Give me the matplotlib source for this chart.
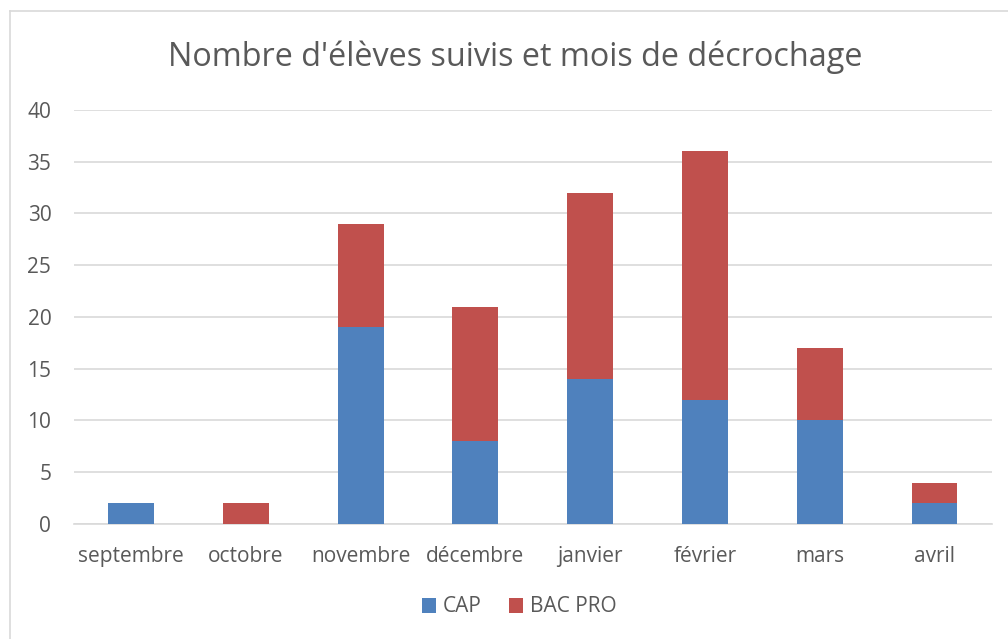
import matplotlib.pyplot as plt
from matplotlib.lines import Line2D
import numpy as np

plt.rcParams['font.family'] = ['Open Sans', 'DejaVu Sans']

TITLE = "Nombre d'élèves suivis et mois de décrochage"

months = ["septembre", "octobre", "novembre", "décembre", "janvier", "février", "mars", "avril"]
cap = [2, 0, 19, 8, 14, 12, 10, 2]
bac_pro = [0, 2, 10, 13, 18, 24, 7, 2]
y_ticks = [0, 5, 10, 15, 20, 25, 30, 35, 40]

CAP_COLOR = "#4F81BD"
BAC_COLOR = "#C0504D"
TEXT_COLOR = "#595959"
GRID_COLOR = "#D9D9D9"

fig = plt.figure(figsize=(10.08, 6.39), dpi=100)
ax = fig.add_axes([0.073, 0.180, 0.911, 0.648])

x = np.arange(len(months))
ax.bar(x, cap, width=0.4, color=CAP_COLOR, label="CAP", zorder=3)
ax.bar(x, bac_pro, width=0.4, bottom=cap, color=BAC_COLOR, label="BAC PRO", zorder=3)

ax.set_xlim(-0.5, len(months) - 0.5)
ax.set_ylim(0, 40)
ax.set_yticks(y_ticks)
ax.set_xticks(x)
ax.set_xticklabels(months)
ax.tick_params(axis="both", length=0, labelsize=15, colors=TEXT_COLOR)
ax.tick_params(axis="y", pad=16)
ax.tick_params(axis="x", pad=16)
ax.grid(axis="y", color=GRID_COLOR, linewidth=1.2, zorder=0)
for side in ["top", "right", "left"]:
    ax.spines[side].set_visible(False)
ax.spines["bottom"].set_color(GRID_COLOR)
ax.spines["bottom"].set_linewidth(1.2)

fig.text(515 / 1008, 1 - 57 / 639, TITLE, ha="center", va="center",
         fontsize=23.3, color=TEXT_COLOR)

# chart area border (left and top edges visible)
fig.add_artist(Line2D([10 / 1008, 10 / 1008], [0, 1 - 11 / 639],
                      transform=fig.transFigure, color=GRID_COLOR, linewidth=1.2))
fig.add_artist(Line2D([10 / 1008, 1], [1 - 11 / 639, 1 - 11 / 639],
                      transform=fig.transFigure, color=GRID_COLOR, linewidth=1.2))

leg = fig.legend(loc="center", bbox_to_anchor=(519 / 1008, 1 - 607 / 639), ncol=2,
                 frameon=False, fontsize=15, handlelength=0.7, handleheight=0.7,
                 handletextpad=0.3, columnspacing=1.3)
for t in leg.get_texts():
    t.set_color(TEXT_COLOR)

fig.savefig("out.png", dpi=100)
